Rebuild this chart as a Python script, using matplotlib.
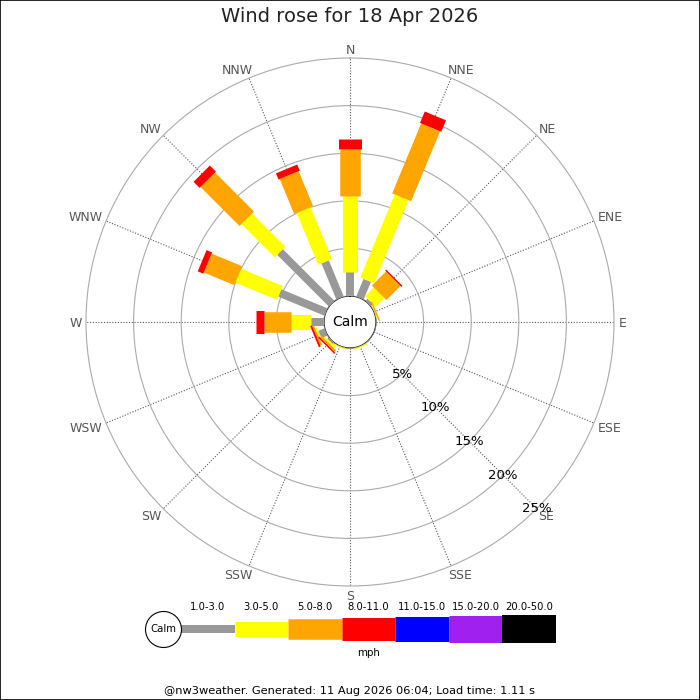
import numpy as np
import matplotlib
matplotlib.use("Agg")
import matplotlib.pyplot as plt
from matplotlib.patches import Rectangle

# ---------------- data ----------------
directions = ['N', 'NNE', 'NE', 'ENE', 'E', 'ESE', 'SE', 'SSE',
              'S', 'SSW', 'SW', 'WSW', 'W', 'WNW', 'NW', 'NNW']
speed_bins = ['1.0-3.0', '3.0-5.0', '5.0-8.0', '8.0-11.0',
              '11.0-15.0', '15.0-20.0', '20.0-50.0']
bin_colors = ['#999999', '#ffff00', '#ffa500', '#ff0000',
              '#0000ff', '#a020f0', '#000000']
bin_widths_px = [8, 15, 20.5, 23, 25, 27, 28]

# percentage of time per direction for each speed bin
pct_1_3   = [2.55, 2.0, 0.3, 0.0, 0, 0, 0, 0,    0, 0,    0.2,  0.7, 1.37, 5.25, 7.67, 4.1]
pct_3_5   = [8.0,  9.45, 1.3, 0.1, 0, 0, 0, 0.15, 0, 0.15, 0.2,  0.2, 2.1,  4.73, 4.93, 5.9]
pct_5_8   = [4.9,  7.95, 2.1, 0.15, 0, 0, 0, 0,   0, 0,    0.25, 0.2, 2.83, 3.47, 5.8,  3.97]
pct_8_11  = [1.0,  1.3, 0.15, 0.0, 0, 0, 0, 0,    0, 0,    0.15, 0.2, 0.84, 0.63, 0.9,  0.7]
pct_11_15 = [0] * 16
pct_15_20 = [0] * 16
pct_20_50 = [0] * 16
series = [pct_1_3, pct_3_5, pct_5_8, pct_8_11, pct_11_15, pct_15_20, pct_20_50]

ring_pcts = [5, 10, 15, 20, 25]
ring_labels = ['5%', '10%', '15%', '20%', '25%']

title = 'Wind rose for 18 Apr 2026'
footer = '@nw3weather. Generated: 11 Aug 2026 06:04; Load time: 1.11 s'
unit = 'mph'

# ---------------- styling ----------------
plt.rcParams['font.family'] = ['DejaVu Sans']
W, H = 700, 700
DPI = 100
px2pt = 72.0 / DPI

cx, cy = 350, 322          # centre in pixels (from top)
R_outer = 264              # outer ring radius (px)
calm_px = 26               # calm circle radius (px)
rmax = 25.0
scale = (R_outer - calm_px) / rmax   # px per percent
calm_units = calm_px / scale

fig = plt.figure(figsize=(W / DPI, H / DPI), dpi=DPI)
fig.patch.set_facecolor('white')

ax = fig.add_axes([(cx - R_outer) / W, (H - cy - R_outer) / H,
                   2 * R_outer / W, 2 * R_outer / H], projection='polar')
ax.set_theta_zero_location('N')
ax.set_theta_direction(-1)
ax.set_rorigin(-calm_units)
ax.set_ylim(0, rmax)

thetas = np.deg2rad(np.arange(16) * 22.5)

# grid
ax.set_yticks(ring_pcts[:-1])
ax.set_yticklabels([])
ax.set_xticks(thetas)
ax.set_xticklabels([])
ax.yaxis.grid(True, color='#aaaaaa', linestyle='-', linewidth=0.8)
ax.xaxis.grid(True, color='#555555', linestyle=(0, (1, 1.5)), linewidth=0.8)
ax.spines['polar'].set_color('#aaaaaa')
ax.spines['polar'].set_linewidth(0.8)
ax.tick_params(length=0)

# bars
cum = np.zeros(16)
for vals, col, wpx in zip(series, bin_colors, bin_widths_px):
    vals = np.asarray(vals, dtype=float)
    for th, c0, v in zip(thetas, cum, vals):
        if v > 0:
            ax.plot([th, th], [c0, c0 + v], color=col, linewidth=wpx * px2pt,
                    solid_capstyle='butt', zorder=3)
    cum = cum + vals

# calm circle
tt = np.linspace(0, 2 * np.pi, 361)
ax.plot(tt, np.zeros_like(tt), color='#aaaaaa', linewidth=0.8, zorder=4)
ax.text(0.5, 0.5, 'Calm', transform=ax.transAxes, ha='center', va='center',
        fontsize=10, color='black', zorder=5)

# direction labels: offset outward from the ring end of each direction line
renderer = fig.canvas.get_renderer()
lab_fs = 9
cap_px = 0.729 * lab_fs / px2pt
gap_px = 4.5
for th, lab in zip(thetas, directions):
    t = ax.annotate(lab, xy=(th, rmax), xytext=(0, 0), textcoords='offset points',
                    ha='center', va='baseline', fontsize=lab_fs,
                    color='#555555', annotation_clip=False)
    hw = t.get_window_extent(renderer).width / 2.0
    hh = cap_px / 2.0
    s, c = np.sin(th), np.cos(th)
    dx = gap_px * s + hw * np.sign(s) * np.sqrt(abs(s))
    dy = gap_px * c + hh * np.sign(c) * np.sqrt(abs(c)) - hh
    t.set_position((dx * px2pt, dy * px2pt))

# ring percentage labels along SE
for p, lab in zip(ring_pcts, ring_labels):
    ax.text(np.deg2rad(135), p, lab, ha='center', va='center', fontsize=9.5,
            color='black', zorder=6)

# title & footer
fig.text(0.5, 1 - 17 / H, title, ha='center', va='center', fontsize=14,
         color='#222222')
fig.text(0.5, 1 - 691 / H, footer, ha='center', va='center', fontsize=8.2,
         color='black')

# legend
leg_left, leg_right, leg_cy = 181, 556, 629
lax = fig.add_axes([leg_left / W, (H - leg_cy - 30) / H,
                    (leg_right - leg_left) / W, 60 / H])
lax.set_xlim(0, len(speed_bins))
lax.set_ylim(-30, 30)
lax.axis('off')
for i, (lab, col, wpx) in enumerate(zip(speed_bins, bin_colors, bin_widths_px)):
    lax.plot([i, i + 1], [0, 0], color=col, linewidth=wpx * px2pt,
             solid_capstyle='butt')
    lax.text(i + 0.5, 22, lab, ha='center', va='center', fontsize=7.2,
             color='black')
seg_px = (leg_right - leg_left) / len(speed_bins)
lax.scatter([-18 / seg_px], [0], s=(36 * px2pt) ** 2, facecolor='white',
            edgecolor='black', linewidth=0.8, clip_on=False, zorder=5)
lax.text(-18 / seg_px, 0, 'Calm', ha='center', va='center', fontsize=7.3,
         clip_on=False, zorder=6)
lax.text(len(speed_bins) / 2, -24, unit, ha='center', va='center',
         fontsize=7.4)

# frame
fig.patches.append(Rectangle((0, 0), 1, 1, transform=fig.transFigure,
                             fill=False, edgecolor='black', linewidth=1.2))

fig.savefig('out.png', dpi=DPI)
